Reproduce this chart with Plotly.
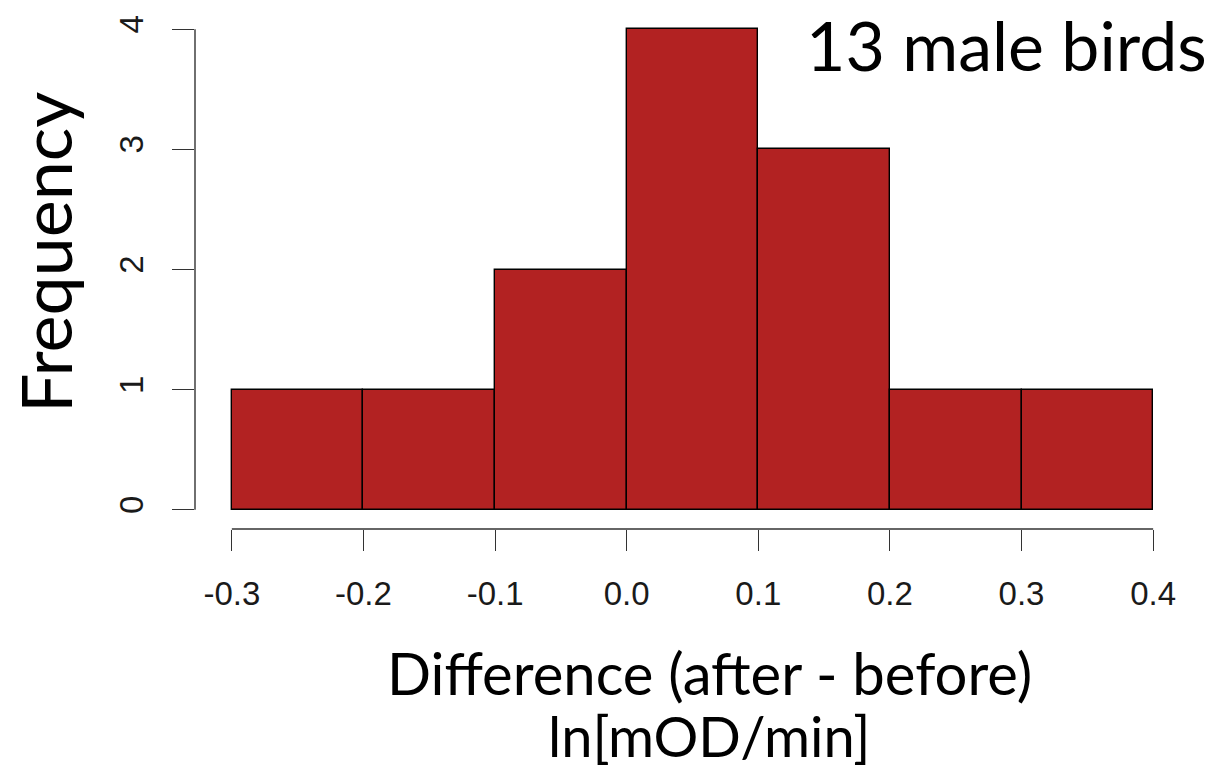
import plotly.graph_objects as go

# Data
bin_edges = [-0.3, -0.2, -0.1, 0.0, 0.1, 0.2, 0.3, 0.4]
counts = [1, 1, 2, 4, 3, 1, 1]
x_ticks = [-0.3, -0.2, -0.1, 0.0, 0.1, 0.2, 0.3, 0.4]
x_tick_labels = ["-0.3", "-0.2", "-0.1", "0.0", "0.1", "0.2", "0.3", "0.4"]
y_ticks = [0, 1, 2, 3, 4]
y_tick_labels = ["0", "1", "2", "3", "4"]

title_text = "13 male birds"
y_title = "Frequency"
x_title_1 = "Difference (after - before)"
x_title_2 = "ln[mOD/min]"

mids = [(a + b) / 2 for a, b in zip(bin_edges[:-1], bin_edges[1:])]
widths = [b - a for a, b in zip(bin_edges[:-1], bin_edges[1:])]

W, H = 1231, 774
L, R, T, B = 195, 41, 10, 245
pw, ph = W - L - R, H - T - B

fig = go.Figure()
fig.add_trace(go.Bar(
    x=mids, y=counts, width=widths,
    marker=dict(color="#B22222", line=dict(color="#000000", width=1.4)),
    showlegend=False, hoverinfo="skip",
))

xr = [bin_edges[0] - 0.04 * (bin_edges[-1] - bin_edges[0]),
      bin_edges[-1] + 0.04 * (bin_edges[-1] - bin_edges[0])]
yr = [-0.04 * max(y_ticks), max(y_ticks) * 1.04]

tick_font = dict(family="Liberation Sans, Arial, sans-serif", size=33, color="#1a1a1a")
fig.update_layout(
    width=W, height=H,
    margin=dict(l=L, r=R, t=T, b=B, pad=0),
    plot_bgcolor="white", paper_bgcolor="white",
    bargap=0,
    xaxis=dict(range=xr, tickvals=x_ticks, ticktext=x_tick_labels, ticks="outside",
               ticklen=21, tickwidth=1.4, tickcolor="#333333", showline=False,
               showgrid=False, zeroline=False, tickfont=tick_font, ticklabelstandoff=14),
    yaxis=dict(range=yr, tickvals=y_ticks, ticktext=y_tick_labels, ticks="outside",
               ticklen=22, tickwidth=1.4, tickcolor="#333333", showline=False,
               showgrid=False, zeroline=False, tickfont=tick_font, tickangle=-90,
               ticklabelstandoff=16),
)

# R-style axis lines spanning first to last tick
fig.add_shape(type="line", xref="x", yref="paper", x0=x_ticks[0], x1=x_ticks[-1], y0=0, y1=0,
              line=dict(color="#333333", width=1.4))
fig.add_shape(type="line", xref="paper", yref="y", x0=0, x1=0, y0=y_ticks[0], y1=y_ticks[-1],
              line=dict(color="#333333", width=1.4))

big = "Lato, Carlito, Calibri, sans-serif"


def px_x(p):
    return (p - L) / pw


def px_y(p):
    return (H - B - p) / ph


fig.add_annotation(text=title_text, xref="paper", yref="paper", x=px_x(1209), y=px_y(44),
                   xanchor="right", yanchor="middle", showarrow=False,
                   font=dict(family=big, size=68, color="black"))
fig.add_annotation(text=y_title, xref="paper", yref="paper", x=px_x(45), y=px_y(253),
                   xanchor="center", yanchor="middle", textangle=-90, showarrow=False,
                   font=dict(family=big, size=70, color="black"))
fig.add_annotation(text=x_title_1, xref="paper", yref="paper", x=px_x(709), y=px_y(673),
                   xanchor="center", yanchor="middle", showarrow=False,
                   font=dict(family=big, size=58, color="black"))
fig.add_annotation(text=x_title_2, xref="paper", yref="paper", x=px_x(709), y=px_y(735),
                   xanchor="center", yanchor="middle", showarrow=False,
                   font=dict(family=big, size=56, color="black"))

fig.write_html("out.html", config={"displayModeBar": False},
               post_script="document.body.style.margin='0px';")
